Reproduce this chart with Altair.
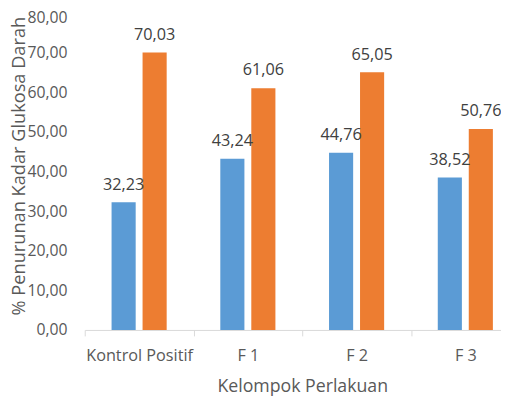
import altair as alt
import pandas as pd

categories = ["Kontrol Positif", "F 1", "F 2", "F 3"]
series_names = ["Seri 1", "Seri 2"]
blue_values = [32.23, 43.24, 44.76, 38.52]
orange_values = [70.03, 61.06, 65.05, 50.76]
colors = ["#5B9BD5", "#ED7D31"]
y_ticks = [0, 10, 20, 30, 40, 50, 60, 70, 80]

rows = []
for i, c in enumerate(categories):
    for s, vals in zip(series_names, [blue_values, orange_values]):
        rows.append({"cat": c, "series": s, "value": vals[i],
                     "label": f"{vals[i]:.2f}".replace(".", ",")})
df = pd.DataFrame(rows)

FONT = "Open Sans"

x = alt.X("cat:N", sort=categories,
          scale=alt.Scale(paddingInner=0, paddingOuter=0, range=[0, 442]),
          axis=alt.Axis(title="Kelompok Perlakuan", labelAngle=0, tickBand="extent",
                        domainColor="#D9D9D9", tickColor="#D9D9D9", tickSize=6,
                        labelColor="#595959", labelFont=FONT, labelFontSize=16.5,
                        labelPadding=12, titleColor="#595959", titleFont=FONT,
                        titleFontSize=18, titleFontWeight="normal", titlePadding=14))
xo = alt.XOffset("series:N", sort=series_names,
                 scale=alt.Scale(paddingInner=0.222, paddingOuter=0.865))
y = alt.Y("value:Q", scale=alt.Scale(domain=[0, 80], nice=False),
          axis=alt.Axis(values=y_ticks, title="% Penurunan Kadar Glukosa Darah",
                        domain=False, ticks=False, grid=False,
                        labelExpr="replace(format(datum.value, '.2f'), '.', ',')",
                        labelColor="#595959", labelFont=FONT, labelFontSize=16,
                        labelPadding=18,
                        labelOffset=alt.condition("datum.value == 80", alt.value(5), alt.value(0)),
                        titleColor="#595959", titleFont=FONT, titleFontSize=18.5,
                        titleFontWeight="normal", titleAngle=-90, titleX=-67, titleY=155,
                        titleAlign="center", titleBaseline="middle"))

bars = alt.Chart(df).mark_bar().encode(
    x=x, xOffset=xo, y=y,
    color=alt.Color("series:N", sort=series_names,
                    scale=alt.Scale(domain=series_names, range=colors), legend=None),
)
labels = alt.Chart(df).mark_text(baseline="alphabetic", dy=-13, font=FONT,
                                 fontSize=16.5, color="#404040").encode(
    x=x, xOffset=xo, y=y, text="label:N")

chart = (bars + labels).properties(
    width=423, height=322,
    autosize=alt.AutoSizeParams(type="none"),
    padding={"left": 78, "top": 2, "right": 0, "bottom": 70},
).configure_view(stroke=None)

chart.save("out.html", embed_options={"renderer": "svg", "actions": False})
